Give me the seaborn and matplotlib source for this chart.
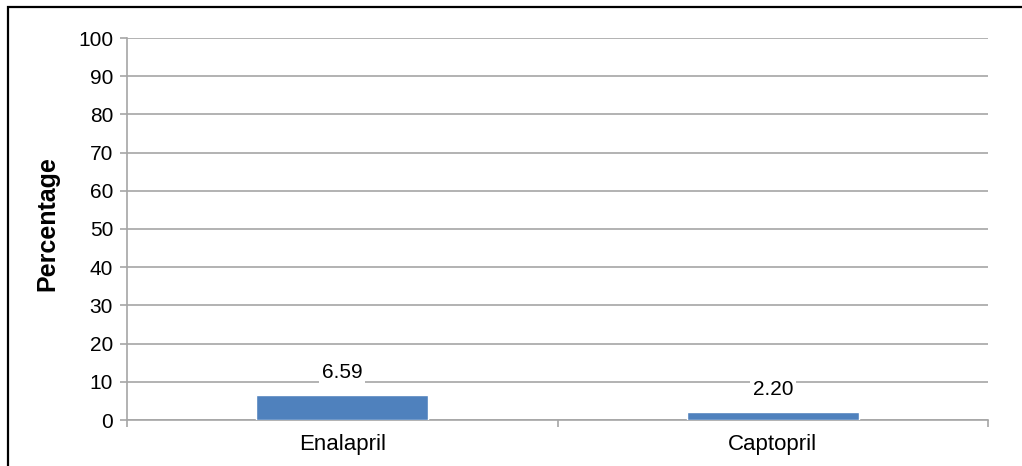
import matplotlib
matplotlib.use('Agg')
import matplotlib.pyplot as plt
import seaborn as sns
import pandas as pd
from matplotlib.patches import Rectangle
from matplotlib.ticker import FixedLocator

# data
drugs = ['Enalapril', 'Captopril']
percent = [6.59, 2.20]
y_ticks = [0, 10, 20, 30, 40, 50, 60, 70, 80, 90, 100]

df = pd.DataFrame({'drug': drugs, 'percent': percent})

sns.set_style('white')
plt.rcParams['font.family'] = ['Liberation Sans', 'DejaVu Sans']
plt.rcParams['text.color'] = 'black'
plt.rcParams['axes.labelcolor'] = 'black'
plt.rcParams['xtick.color'] = 'black'
plt.rcParams['ytick.color'] = 'black'

fig = plt.figure(figsize=(10.22, 4.66), dpi=100)
ax = fig.add_axes([127 / 1022, 46 / 466, 861 / 1022, 382 / 466])

sns.barplot(data=df, x='drug', y='percent', color='#4F81BD', width=0.4,
            saturation=1, ax=ax, zorder=3)

ax.set_ylim(0, 100)
ax.set_xlim(-0.5, 1.5)
ax.set_yticks(y_ticks)
ax.yaxis.grid(True, color='#A6A6A6', linewidth=1.2, zorder=0)
ax.set_axisbelow(True)

for side in ['top', 'right']:
    ax.spines[side].set_visible(False)
for side in ['left', 'bottom']:
    ax.spines[side].set_color('#A6A6A6')
    ax.spines[side].set_linewidth(1.2)

# category boundary ticks below the axis
ax.xaxis.set_minor_locator(FixedLocator([-0.5, 0.5, 1.5]))
ax.tick_params(axis='x', which='minor', bottom=True, length=5, color='#A6A6A6', width=1.2)
ax.tick_params(axis='x', which='major', bottom=True, length=0, pad=10, labelsize=16,
               labelcolor='black')
ax.tick_params(axis='y', left=True, length=5, color='#A6A6A6', width=1.2, pad=5, labelsize=15,
               labelcolor='black')

ax.set_xlabel('')
ax.set_ylabel('Percentage', fontsize=18, fontweight='bold', color='black')
ax.yaxis.set_label_coords(-0.092, 0.514)
ax.yaxis.label.set_va('center')

ax.bar_label(ax.containers[0], fmt='%.2f', padding=9, fontsize=15, color='black',
             bbox=dict(facecolor='white', edgecolor='none', pad=2))

# outer frame, right and bottom edges fall outside the image
fig.add_artist(Rectangle((8 / 1022, -0.05), 1.2, 1.05 - 7 / 466,
                         transform=fig.transFigure, fill=False,
                         edgecolor='black', linewidth=1.6, clip_on=False))

fig.savefig('out.png', dpi=100)
